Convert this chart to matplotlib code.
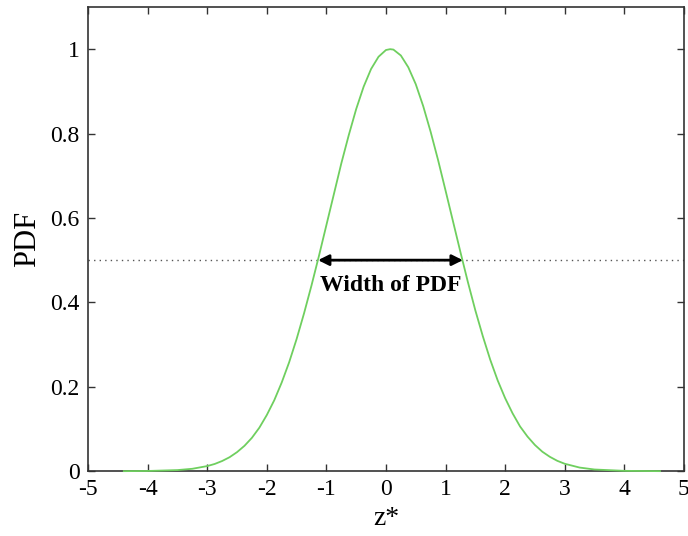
import matplotlib
matplotlib.use("Agg")
import matplotlib.pyplot as plt

# Normalised PDF of z* (values sampled along the curve)
z_star = [-4.4, -4.0, -3.5, -3.25, -3.0, -2.875, -2.75, -2.625, -2.5, -2.375,
          -2.25, -2.125, -2.0, -1.875, -1.75, -1.625, -1.5, -1.375, -1.25, -1.125,
          -1.0, -0.875, -0.75, -0.625, -0.5, -0.375, -0.25, -0.125, 0.0, 0.07,
          0.125, 0.25, 0.375, 0.5, 0.625, 0.75, 0.875, 1.0, 1.125, 1.25,
          1.375, 1.5, 1.625, 1.75, 1.875, 2.0, 2.125, 2.25, 2.375, 2.5,
          2.625, 2.75, 2.875, 3.0, 3.25, 3.5, 4.0, 4.6]
pdf = [0.000, 0.0004, 0.0025, 0.0056, 0.012, 0.017, 0.024, 0.033, 0.045, 0.060,
       0.079, 0.103, 0.133, 0.168, 0.210, 0.258, 0.313, 0.374, 0.440, 0.510,
       0.583, 0.656, 0.729, 0.796, 0.858, 0.911, 0.953, 0.982, 0.998, 1.000,
       0.999, 0.985, 0.957, 0.917, 0.865, 0.804, 0.737, 0.665, 0.592, 0.519,
       0.448, 0.381, 0.320, 0.264, 0.215, 0.173, 0.137, 0.106, 0.082, 0.062,
       0.046, 0.034, 0.0245, 0.0175, 0.0085, 0.0039, 0.0007, 0.000]

half_max = 0.5
width_left, width_right = -1.14, 1.29

x_ticks = [-5, -4, -3, -2, -1, 0, 1, 2, 3, 4, 5]
y_ticks = [0, 0.2, 0.4, 0.6, 0.8, 1]
y_tick_labels = ["0", "0.2", "0.4", "0.6", "0.8", "1"]

plt.rcParams["font.family"] = ["Liberation Serif", "DejaVu Serif"]

fig = plt.figure(figsize=(6.88, 5.36), dpi=100)
ax = fig.add_axes([0.128, 0.121, 0.866, 0.866])

ax.plot(z_star, pdf, color="#6fcf5f", lw=1.3, zorder=3, clip_on=False)

# Half-maximum reference line
ax.axhline(half_max, color="#555555", lw=1.0, ls=(0, (1, 3)), zorder=1)

# Double arrow marking the width at half maximum
ax.annotate("", xy=(width_left, half_max), xytext=(width_right, half_max),
            arrowprops=dict(arrowstyle="<|-|>", color="black", lw=2,
                            mutation_scale=16, shrinkA=0, shrinkB=0),
            zorder=4)
ax.text((width_left + width_right) / 2, 0.44, "Width of PDF",
        ha="center", va="center", fontsize=17, fontweight="bold")

ax.set_xlim(-5, 5)
ax.set_ylim(0, 1.1)
ax.set_xticks(x_ticks)
ax.set_xticklabels([str(t) for t in x_ticks])
ax.set_yticks(y_ticks)
ax.set_yticklabels(y_tick_labels)
ax.tick_params(direction="in", top=True, right=True, length=5, width=1,
               labelsize=17, color="#333333", pad=6)
for sp in ax.spines.values():
    sp.set_linewidth(1.2)
    sp.set_color("#333333")

ax.set_xlabel("z*", fontsize=20, labelpad=4)
ax.set_ylabel("PDF", fontsize=22, labelpad=6)

fig.savefig("out.png", dpi=100)
